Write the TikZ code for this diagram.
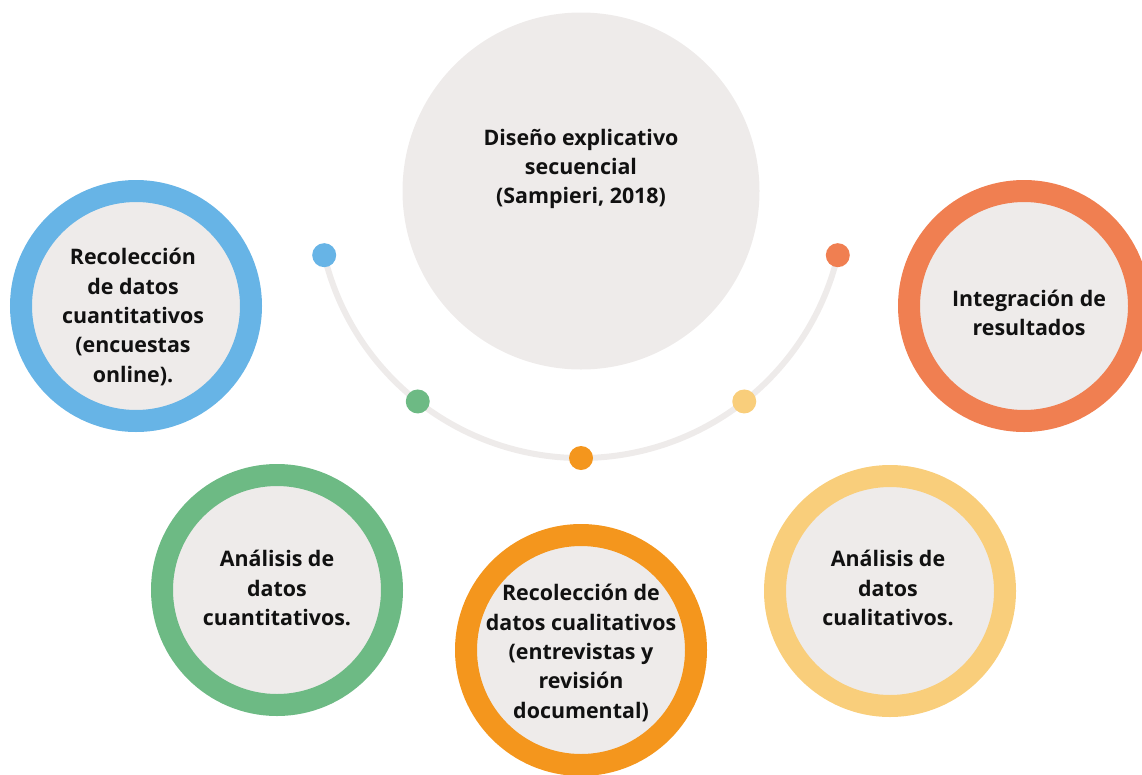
\documentclass[tikz,border=0pt]{standalone}
\usepackage{fontspec}
\setmainfont{Open Sans}
\usetikzlibrary{calc}
\definecolor{bggray}{HTML}{EEEBEA}
\definecolor{cblue}{HTML}{67B4E6}
\definecolor{cgreen}{HTML}{6DBA84}
\definecolor{corange}{HTML}{F4961D}
\definecolor{cyellow}{HTML}{F9CE7B}
\definecolor{cred}{HTML}{F07F51}
\definecolor{txt}{HTML}{111111}
\begin{document}
\begin{tikzpicture}[x=1pt,y=-1pt,
  ring/.style={circle, fill=bggray, draw=#1, line width=22pt, minimum size=230pt, inner sep=0pt},
  lbl/.style={text=txt, font=\fontsize{21.4}{29.3}\selectfont\bfseries, align=center, inner sep=0pt},
  dotnode/.style={circle, fill=#1, minimum size=24pt, inner sep=0pt},
  track/.style={draw=bggray, line width=6pt}
]
\useasboundingbox (0,0) rectangle (1142,774);
% central circle
\node[circle, fill=bggray, minimum size=357pt, inner sep=0pt] (main) at (581,191) {};
\node[lbl] (mainlbl) at (581,169) {Diseño explicativo\\secuencial\\(Sampieri, 2018)};
% arc track
\coordinate (arcc) at (581,194);
\draw[track] ($(arcc)+(166.6:264)$) arc[start angle=166.6, end angle=13.4, radius=264];
% dots
\node[dotnode=cblue]   (d1) at ($(arcc)+(166.6:264)$) {};
\node[dotnode=cgreen]  (d2) at ($(arcc)+(128.2:264)$) {};
\node[dotnode=corange] (d3) at ($(arcc)+(90:264)$) {};
\node[dotnode=cyellow] (d4) at ($(arcc)+(51.8:264)$) {};
\node[dotnode=cred]    (d5) at ($(arcc)+(13.4:264)$) {};
% ring circles
\node[ring=cblue]   (c1) at (136,306) {};
\node[ring=cgreen]  (c2) at (277,590) {};
\node[ring=corange] (c3) at (581,650) {};
\node[ring=cyellow] (c4) at (890,591) {};
\node[ring=cred]    (c5) at (1024,306) {};
% labels
\node[lbl] (l1) at (133,317) {Recolección\\de datos\\cuantitativos\\(encuestas\\online).};
\node[lbl] (l2) at (277,588) {Análisis de\\datos\\cuantitativos.};
\node[lbl] (l3) at (581,653) {Recolección de\\datos cualitativos\\(entrevistas y\\revisión\\documental)};
\node[lbl] (l4) at (888,588) {Análisis de\\datos\\cualitativos.};
\node[lbl] (l5) at (1029,313) {Integración de\\resultados};
\end{tikzpicture}
\end{document}
